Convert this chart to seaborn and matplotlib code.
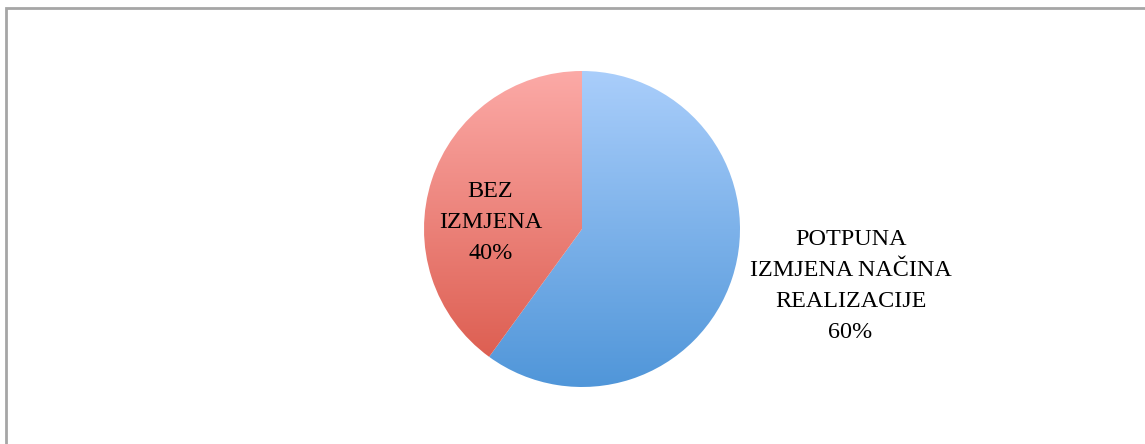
import numpy as np
import matplotlib
matplotlib.use("Agg")
import matplotlib.pyplot as plt
import seaborn as sns
from matplotlib.colors import LinearSegmentedColormap
from matplotlib.patches import Rectangle

categories = ["POTPUNA\nIZMJENA NAČINA\nREALIZACIJE", "BEZ\nIZMJENA"]
values = [60, 40]
pct_labels = ["60%", "40%"]
grad_top = ["#aacefb", "#fcaaa7"]
grad_bottom = ["#5096d9", "#da5749"]

sns.set_theme(style="white")
plt.rcParams['font.family'] = ['Liberation Serif', 'DejaVu Serif']

W, H, DPI = 1145, 444, 100
fig = plt.figure(figsize=(W / DPI, H / DPI), dpi=DPI)
fig.patch.set_facecolor("white")

# figure border
fig.add_artist(Rectangle((6 / W, -0.1), 1.2, (H - 8) / H + 0.1, transform=fig.transFigure,
                         fill=False, edgecolor="#a6a6a6", linewidth=2))

cx, cy, r = 582, H - 229, 158
ax = fig.add_axes([(cx - r) / W, (cy - r) / H, 2 * r / W, 2 * r / H])

wedges, _ = ax.pie(values, startangle=90, counterclock=False, radius=1,
                   center=(0, 0), frame=False)
ax.set_xlim(-1, 1)
ax.set_ylim(-1, 1)
ax.set_aspect("equal")
ax.axis("off")

for w, top, bot in zip(wedges, grad_top, grad_bottom):
    cmap = LinearSegmentedColormap.from_list("g", [bot, top])
    grad = np.linspace(0, 1, 256).reshape(-1, 1)
    im = ax.imshow(grad, cmap=cmap, extent=(-1, 1, -1, 1), origin="lower",
                   aspect="auto", zorder=2)
    w.set_facecolor("none")
    w.set_edgecolor("none")
    im.set_clip_path(w)

ax.set_xlim(-1, 1)
ax.set_ylim(-1, 1)

ax.text(-0.58, 0.04, categories[1] + "\n" + pct_labels[1], ha="center", va="center",
        fontsize=17.4, color="#000000", linespacing=1.62, zorder=5)
ax.text(1.70, -0.36, categories[0] + "\n" + pct_labels[0], ha="center", va="center",
        fontsize=17.4, color="#000000", linespacing=1.62, zorder=5, clip_on=False)

fig.savefig("out.png", dpi=DPI)
